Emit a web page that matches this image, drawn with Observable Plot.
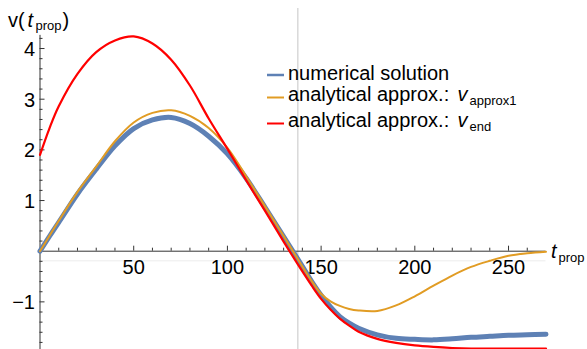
<!DOCTYPE html>
<html><head><meta charset="utf-8">
<script src="https://cdn.jsdelivr.net/npm/d3@7"></script>
<script src="https://cdn.jsdelivr.net/npm/@observablehq/plot@0.6"></script>
<style>
body{margin:0;background:#fff;}
#chart{width:587px;height:349px;}
</style></head><body><div id="chart"></div>
<script>
// ---- data ----
const t          = [0, 5, 10, 20, 30, 40, 50, 60, 70, 80, 90, 100, 110, 120, 130, 140, 145, 150, 155, 160, 165, 170, 180, 190, 200, 210, 220, 230, 240, 250, 260, 270];
const numerical  = [0, 0.29, 0.57, 1.13, 1.62, 2.08, 2.42, 2.59, 2.64, 2.52, 2.27, 1.92, 1.44, 0.87, 0.29, -0.30, -0.60, -0.87, -1.10, -1.29, -1.42, -1.52, -1.65, -1.72, -1.74, -1.75, -1.73, -1.70, -1.68, -1.66, -1.65, -1.64];
const approx1    = [0, 0.30, 0.60, 1.17, 1.67, 2.17, 2.54, 2.73, 2.78, 2.67, 2.43, 2.04, 1.48, 0.89, 0.30, -0.30, -0.59, -0.84, -0.99, -1.08, -1.14, -1.17, -1.18, -1.07, -0.89, -0.68, -0.48, -0.31, -0.19, -0.09, -0.04, -0.01];
const vEnd       = [1.90, 2.42, 2.86, 3.50, 3.93, 4.16, 4.24, 4.10, 3.78, 3.27, 2.62, 2.02, 1.40, 0.80, 0.19, -0.40, -0.68, -0.94, -1.15, -1.33, -1.47, -1.59, -1.73, -1.81, -1.86, -1.89, -1.91, -1.92, -1.92, -1.92, -1.92, -1.92];
const markerT    = [137.6];
const faintY     = [-0.19];
const xTickLabels = [50, 100, 150, 200, 250];
const yTickLabels = [-1, 1, 2, 3, 4];
const seriesNames = ["numerical solution", "analytical approx.: ", "analytical approx.: "];
const seriesSubs  = [null, "approx1", "end"];
const seriesColors = ["#5E81B5", "#E19C24", "#FF0000"];

const FONT = "'Liberation Sans', Arial, Helvetica, sans-serif";
const xMinor = d3.range(10, 261, 10).filter(d => !xTickLabels.includes(d));
const yMinor = d3.range(-9, 22).map(k => +(k * 0.2).toFixed(1)).filter(d => d !== 0 && !yTickLabels.includes(d));
const toRows = vals => t.map((ti, i) => ({t: ti, v: vals[i]}));
const AX = "#333";

const plot = Plot.plot({
  width: 587, height: 349,
  marginLeft: 39.5, marginRight: 41.5, marginTop: 8, marginBottom: 0,
  x: {domain: [0, 270], axis: null},
  y: {domain: [-1.94, 4.79], axis: null},
  style: {fontFamily: FONT, background: "white", overflow: "visible"},
  marks: [
    Plot.ruleY(faintY, {x1: 0, x2: 270, stroke: "#ececec", strokeWidth: 1}),
    Plot.ruleX(markerT, {y1: -1.94, y2: 4.79, stroke: "#c6c6c6", strokeWidth: 1}),
    Plot.ruleY([0], {x1: 0, x2: 270, stroke: AX, strokeWidth: 1}),
    Plot.ruleX([0], {y1: -1.94, y2: 4.26, stroke: AX, strokeWidth: 1}),
    Plot.ruleX(xMinor, {y1: 0, y2: 0, insetBottom: 3, stroke: AX}),
    Plot.ruleX(xTickLabels, {y1: 0, y2: 0, insetBottom: 5, stroke: AX}),
    Plot.ruleY(yMinor, {x1: 0, x2: 0, insetRight: -3, stroke: AX}),
    Plot.ruleY(yTickLabels, {x1: 0, x2: 0, insetRight: -5, stroke: AX}),
    Plot.text(xTickLabels, {x: d => d, y: 0, dy: 16, text: d => String(d), fontSize: 20, fill: "#000"}),
    Plot.text(yTickLabels, {x: 0, y: d => d, dx: -5, dy: 1, textAnchor: "end",
      text: d => d < 0 ? "\u2212" + Math.abs(d) : String(d), fontSize: 20, fill: "#000"}),
    Plot.line(toRows(numerical), {x: "t", y: "v", stroke: seriesColors[0], strokeWidth: 5, curve: "catmull-rom"}),
    Plot.line(toRows(approx1), {x: "t", y: "v", stroke: seriesColors[1], strokeWidth: 2, curve: "catmull-rom"}),
    Plot.line(toRows(vEnd), {x: "t", y: "v", stroke: seriesColors[2], strokeWidth: 2.2, curve: "catmull-rom"})
  ]
});
document.getElementById("chart").appendChild(plot);

// ---- axis labels & legend (text only) ----
const svg = d3.select(plot);
const g = svg.append("g").attr("font-family", FONT).attr("fill", "#000").attr("text-anchor", "start");
function txt(x, y, s, size, italic) {
  g.append("text").attr("x", x).attr("y", y).attr("font-size", size)
   .attr("text-anchor", "start")
   .attr("font-style", italic ? "italic" : "normal").text(s);
}
// y-axis label v(t_prop)
txt(8, 27, "v(", 20, false);
txt(27.5, 27, "t", 20, true);
txt(35.5, 30, "prop", 13, false);
txt(62.5, 27, ")", 20, false);
// x-axis label t_prop
txt(551, 258, "t", 20, true);
txt(558.5, 262, "prop", 13, false);
// legend
const rowBase = [79.5, 101, 127];
const swatchY = [75, 97.5, 123.5];
seriesNames.forEach((name, i) => {
  g.append("line").attr("x1", 267).attr("x2", 284).attr("y1", swatchY[i]).attr("y2", swatchY[i])
   .attr("stroke", seriesColors[i]).attr("stroke-width", i === 0 ? 2.5 : 2);
  txt(288, rowBase[i], name, 20, false);
  if (seriesSubs[i]) {
    txt(457.5, rowBase[i], "v", 20, true);
    txt(469.5, rowBase[i] + 4, seriesSubs[i], 13, false);
  }
});
</script></body></html>
